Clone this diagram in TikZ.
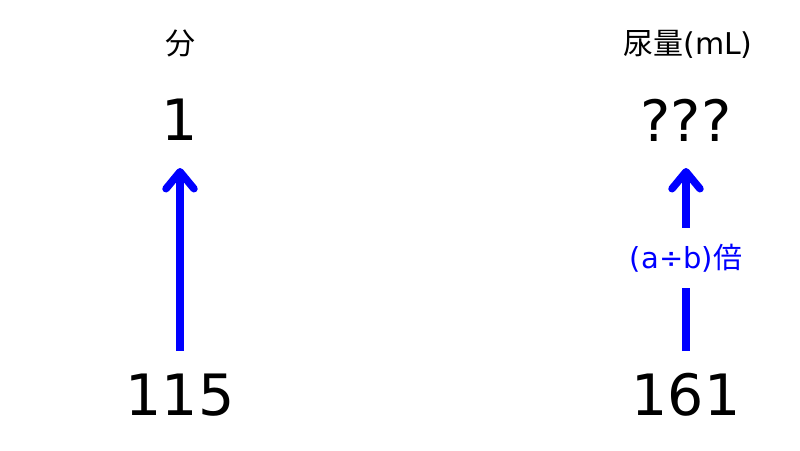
\documentclass[tikz,border=0pt]{standalone}
\usepackage{fontspec}
\setmainfont{DejaVu Sans}
\newfontfamily\cjk{Noto Sans CJK JP}
\usetikzlibrary{arrows.meta}
\definecolor{arrblue}{RGB}{0,0,255}
\begin{document}
\begin{tikzpicture}[x=1pt,y=-1pt,
  big/.style={font=\fontsize{57}{60}\selectfont, inner sep=0pt},
  headtxt/.style={font=\fontsize{30}{32}\selectfont, inner sep=0pt},
  lbl/.style={font=\fontsize{29}{31}\selectfont, text=arrblue, inner sep=0pt, minimum height=60pt},
  shaft/.style={draw=arrblue, line width=7.5pt},
  arr/.style={shaft, -{Straight Barb[round,length=17pt,width=28pt]}}]
\useasboundingbox (0,0) rectangle (800,450);
\node[headtxt] (h1) at (180,43) {\cjk 分};
\node[headtxt] (h2) at (688,44) {{\cjk 尿量}(mL)};
\node[big] (n1) at (180,120) {1};
\node[big] (q) at (686,120) {???};
\node[big] (n115) at (180,395) {115};
\node[big] (n161) at (686,395) {161};
\node[lbl] (lab) at (686,258) {(a÷b){\cjk 倍}};
\coordinate (a1s) at (180,351);
\coordinate (a1e) at (180,168);
\coordinate (a2s) at (686,351);
\coordinate (a2e) at (686,168);
\draw[arr] (a1s) -- (a1e);
\draw[shaft] (a2s) -- (lab.south);
\draw[arr] (lab.north) -- (a2e);
\end{tikzpicture}
\end{document}
